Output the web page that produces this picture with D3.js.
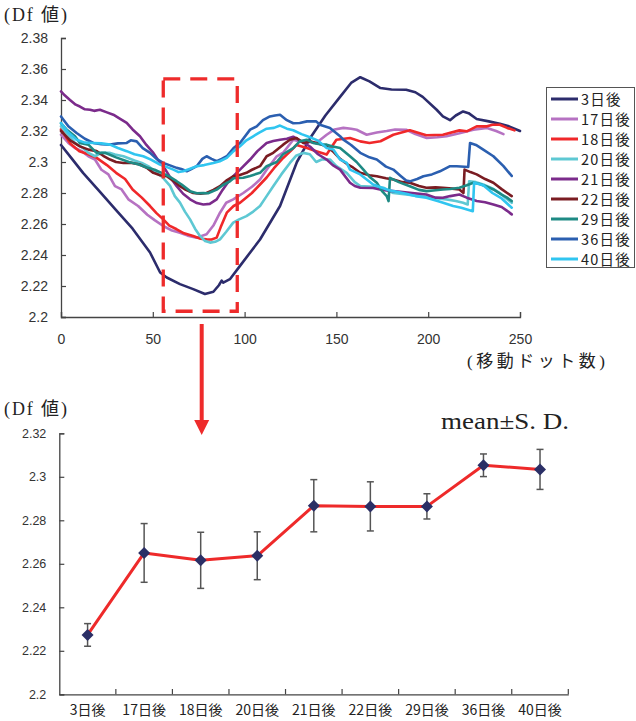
<!DOCTYPE html>
<html><head><meta charset="utf-8">
<script src="https://cdn.jsdelivr.net/npm/d3@7"></script>
<style>
body{margin:0;background:#fff;}
svg{display:block;}
</style></head>
<body>
<svg id="c" width="636" height="721"></svg>
<script>
// ---------- DATA ----------
const seriesNames = ["3日後","17日後","18日後","20日後","21日後","22日後","29日後","36日後","40日後"];
const seriesColors = ["#2c2c6c","#b672c2","#f0282a","#5ec8d3","#7b2b8b","#7a1c22","#1e8a84","#2b5fb0","#30c5f0"];

const d3d = [[0,2.311],[6,2.302],[12,2.293],[21,2.281],[30,2.269],[39,2.257],[48.5,2.2416],[54,2.2287],[57.6,2.2255],[64.8,2.2212],[72,2.218],[78.4,2.2148],[83,2.2163],[86,2.2205],[87.5,2.2235],[88.4,2.2222],[92,2.2244],[97.5,2.233],[108.4,2.250],[119.3,2.2716],[128.5,2.300],[136,2.316],[144,2.330],[152,2.342],[158,2.351],[163,2.3547],[168,2.352],[174,2.3477],[180,2.3468],[188,2.3466],[193,2.345],[197,2.342],[204.6,2.3337],[208,2.3295],[211.9,2.327],[215,2.330],[219,2.3326],[222,2.3315],[226.4,2.3277],[233,2.3262],[239,2.3247],[244,2.323],[250,2.320]];
const d17 = [[0,2.3176],[4,2.3123],[7.6,2.309],[11.3,2.307],[14.9,2.3037],[18.5,2.3016],[22,2.295],[25.8,2.292],[29.4,2.2844],[33,2.2823],[36.7,2.2759],[42,2.2716],[47,2.266],[51,2.2625],[55.7,2.2587],[60,2.256],[64.8,2.2544],[69,2.2525],[73.9,2.2512],[79.3,2.2534],[83,2.259],[86.6,2.2673],[90,2.2737],[93.8,2.2759],[99.3,2.280],[104,2.284],[108.4,2.2887],[112,2.295],[117.5,2.3037],[121,2.306],[126.5,2.3144],[130,2.3133],[135,2.313],[139,2.3123],[144.7,2.3176],[149,2.321],[153.8,2.322],[158,2.3215],[161,2.3208],[166.5,2.3176],[172,2.319],[177.4,2.320],[182,2.321],[188,2.3208],[193,2.318],[199.2,2.3155],[205,2.316],[210,2.3166],[217,2.3185],[224.6,2.3208],[232,2.322],[237,2.320],[241,2.318]];
const d18 = [[0,2.321],[5,2.312],[10,2.307],[14.9,2.305],[19.4,2.3027],[25,2.298],[30,2.293],[34.9,2.289],[39,2.2823],[44,2.277],[48.5,2.2716],[52,2.267],[55.7,2.263],[59,2.259],[63,2.2566],[67,2.254],[72,2.2523],[76,2.2505],[79.3,2.2501],[82,2.250],[84.8,2.2512],[87,2.258],[90.3,2.2673],[94,2.2716],[97.5,2.2737],[104,2.280],[108,2.285],[112,2.290],[116,2.296],[121,2.3026],[125,2.307],[128.3,2.311],[134,2.309],[139,2.307],[144.7,2.3048],[147,2.309],[150,2.3144],[157.4,2.3155],[163,2.3133],[168,2.3123],[174,2.3134],[181,2.3176],[190,2.3205],[199,2.3173],[208,2.3176],[217,2.3204],[221,2.3198],[226.4,2.323],[232,2.323],[235,2.324],[239,2.324],[243,2.322],[247,2.3204]];
const d20 = [[0,2.323],[7.6,2.3123],[12,2.309],[14.9,2.3059],[18.5,2.3037],[22,2.3059],[26.7,2.3059],[29.4,2.3048],[34,2.3037],[40,2.301],[44,2.2994],[48,2.297],[52,2.293],[55,2.2905],[59.4,2.2846],[62,2.278],[64.8,2.2738],[67.5,2.268],[70.3,2.263],[73,2.257],[75.7,2.2523],[78.5,2.249],[81.2,2.248],[84,2.2485],[86.6,2.2501],[90,2.255],[93.8,2.2609],[97,2.263],[101,2.2651],[104.7,2.268],[108.4,2.2716],[112,2.278],[115.6,2.2844],[120,2.292],[124.7,2.2994],[128,2.304],[132,2.3059],[135.5,2.305],[139,2.300],[142,2.3016],[146.5,2.3016],[150,2.2973],[155.6,2.293],[160,2.287],[163,2.2845],[170,2.284],[175.6,2.2834],[181,2.280],[188,2.279],[195.5,2.278],[203,2.2768],[210,2.2759],[215,2.2748],[219,2.2737],[221.5,2.2726],[222.3,2.2876],[226,2.287],[230,2.2855],[235,2.283],[239,2.280],[242,2.277],[245.5,2.2737]];
const d21 = [[0,2.3455],[2,2.343],[4.9,2.340],[8,2.337],[10.3,2.3358],[13,2.334],[15.8,2.3337],[18,2.333],[21.2,2.3337],[25,2.332],[28.5,2.3305],[32,2.328],[35.8,2.3252],[39,2.321],[43,2.3166],[46.5,2.311],[50.3,2.3059],[53,2.301],[55.7,2.2973],[59,2.291],[63,2.2844],[66.5,2.2795],[70.3,2.2759],[74,2.2735],[77.5,2.2726],[81,2.273],[84.8,2.2759],[88,2.282],[92,2.2887],[97.5,2.2951],[103,2.3016],[107,2.307],[112,2.3123],[115.6,2.3135],[119.3,2.3144],[123,2.315],[126.5,2.3163],[130,2.314],[135.6,2.310],[140,2.305],[144.7,2.3016],[148,2.298],[152,2.2951],[157.4,2.2866],[160,2.2845],[163,2.2834],[170,2.2832],[175,2.282],[181,2.2812],[190,2.2802],[199,2.279],[204,2.277],[208,2.2769],[212,2.278],[217,2.279],[221,2.277],[226.4,2.2748],[231,2.274],[235.5,2.2726],[240,2.271],[243,2.2685],[245.5,2.2662]];
const d22 = [[0,2.320],[5,2.314],[10.3,2.3101],[15,2.308],[19.4,2.307],[23,2.304],[26.7,2.3016],[30,2.300],[34,2.2994],[38,2.2995],[43,2.2984],[47,2.296],[50.3,2.293],[54,2.2915],[57.6,2.2908],[61,2.288],[64.8,2.2844],[68,2.282],[72,2.280],[76,2.2795],[79.3,2.280],[83,2.282],[86.6,2.2844],[90,2.288],[93.8,2.2908],[97,2.2915],[101,2.293],[104,2.295],[108.4,2.2973],[112,2.3037],[115.6,2.3059],[121,2.3112],[124.7,2.3144],[128.3,2.3155],[132,2.3123],[135.6,2.3133],[140,2.312],[144.7,2.310],[148,2.307],[152,2.302],[156,2.2985],[159,2.2965],[163,2.293],[168,2.2915],[172,2.2908],[177,2.2895],[181,2.2887],[186,2.287],[190,2.2866],[195,2.2845],[199,2.2834],[204,2.2836],[208,2.2834],[213,2.2828],[217,2.2823],[219.2,2.280],[219.8,2.2951],[223,2.2935],[226.4,2.292],[231,2.289],[235.5,2.2866],[240,2.2825],[243,2.280],[245.5,2.278]];
const d29 = [[0,2.325],[3,2.321],[7.6,2.3166],[10.3,2.3123],[14.9,2.3112],[19.4,2.3059],[24,2.306],[30,2.303],[37,2.300],[42,2.2985],[46.7,2.2965],[51,2.295],[55.7,2.2925],[58.4,2.291],[63,2.2876],[65.7,2.2855],[70.3,2.2812],[74,2.2798],[77.5,2.280],[80.1,2.2798],[84.8,2.2822],[88,2.285],[92,2.2875],[94,2.2895],[99.3,2.2898],[103,2.291],[108.4,2.293],[112,2.2973],[117.5,2.300],[121,2.305],[126.5,2.309],[130,2.3133],[133.8,2.3144],[137.3,2.3123],[141,2.3115],[144.7,2.3112],[148,2.310],[152,2.309],[157.4,2.3037],[161,2.300],[164.7,2.2951],[168,2.2905],[172,2.2866],[175,2.281],[177.4,2.278],[178.4,2.2748],[179.2,2.2898],[184,2.287],[190,2.2844],[195,2.282],[199,2.2812],[204,2.2818],[208,2.2823],[212,2.2826],[217,2.2834],[221,2.285],[224.6,2.2866],[228,2.2858],[232,2.284],[235.5,2.2823],[240,2.279],[243,2.277],[245.5,2.2748]];
const d36 = [[0,2.3294],[4,2.323],[8.5,2.3187],[13,2.315],[17.6,2.3123],[22,2.3115],[26.7,2.3112],[31,2.312],[35.8,2.3123],[38,2.314],[41.2,2.3133],[44.5,2.309],[48.5,2.3059],[52,2.302],[55.7,2.2994],[59,2.298],[63,2.2962],[65.5,2.2955],[68.5,2.294],[71,2.2955],[73.9,2.2973],[77,2.302],[79.3,2.3037],[82,2.302],[84.8,2.3005],[87.5,2.302],[90.3,2.3037],[94,2.309],[97.5,2.3123],[103,2.3209],[106.6,2.323],[110,2.327],[113.8,2.3294],[116.5,2.330],[119.3,2.3305],[123,2.327],[126.5,2.325],[130,2.3252],[134,2.3262],[139,2.3262],[141,2.324],[146.5,2.322],[152,2.3166],[153.8,2.3144],[158,2.311],[163,2.3059],[168,2.303],[172,2.3016],[177,2.297],[181,2.2951],[185,2.291],[188,2.288],[190,2.2875],[194,2.289],[197.4,2.2908],[202,2.292],[206.4,2.294],[211.9,2.2973],[215.5,2.2973],[221.8,2.2968],[222.8,2.3123],[226,2.311],[230,2.308],[235.5,2.3037],[241,2.2973],[245.5,2.291]];
const d40 = [[0,2.3252],[4,2.319],[8.5,2.3144],[13,2.3125],[17.6,2.3123],[22,2.312],[26.7,2.3112],[31,2.309],[35.8,2.307],[40,2.305],[44.8,2.3037],[49,2.3015],[53.9,2.2984],[57,2.297],[61.2,2.2951],[64,2.2935],[66.6,2.294],[70,2.2955],[73.9,2.2973],[78,2.298],[83,2.2994],[86.5,2.3005],[90.3,2.3027],[94,2.307],[97.5,2.3102],[101,2.314],[104.7,2.3166],[108,2.319],[112,2.3215],[116,2.322],[119.3,2.3235],[123,2.3215],[126.5,2.3205],[131,2.318],[135.6,2.316],[140,2.3138],[144.7,2.309],[148.3,2.308],[152,2.3016],[155.6,2.2994],[157.4,2.2951],[163,2.292],[170,2.2855],[177.4,2.2823],[181,2.2812],[188,2.2795],[193,2.278],[199,2.277],[206,2.2745],[213.6,2.2716],[218,2.2705],[224.3,2.2683],[225,2.2866],[230,2.285],[235,2.280],[240,2.2765],[245.5,2.2705]];
const seriesData = [d3d,d17,d18,d20,d21,d22,d29,d36,d40];

const topXTicks = [0,50,100,150,200,250];
const topYTicks = [2.2,2.22,2.24,2.26,2.28,2.3,2.32,2.34,2.36,2.38];
const highlight = {x0:55.7, x1:96, y0:2.2037, y1:2.3536};

const categories = ["3日後","17日後","18日後","20日後","21日後","22日後","29日後","36日後","40日後"];
const means = [2.2273,2.2650,2.2616,2.2637,2.2867,2.2864,2.2864,2.3053,2.3034];
const sds   = [0.0052,0.0135,0.0129,0.0110,0.0120,0.0113,0.0058,0.0052,0.0092];
const botYTicks = [2.2,2.22,2.24,2.26,2.28,2.3,2.32];

// ---------- DRAW ----------
const svg = d3.select("#c");
const fmt = d => String(+d.toFixed(2));
const numFont = "'Liberation Sans', Arial, sans-serif";
const jpFont = "'Noto Sans CJK JP', sans-serif";
const serifFont = "'Liberation Serif', 'DejaVu Serif', 'Noto Sans CJK JP', serif";

// top chart
const xT = d3.scaleLinear([0,250],[61,520]);
const yT = d3.scaleLinear([2.2,2.38],[317,38]);

const gTY = svg.append("g").attr("transform","translate(61,0)")
  .call(d3.axisLeft(yT).tickValues(topYTicks).tickFormat(fmt).tickSize(-5).tickPadding(13));
const gTX = svg.append("g").attr("transform","translate(0,317)")
  .call(d3.axisBottom(xT).tickValues(topXTicks).tickSize(-5).tickPadding(17));
[gTY,gTX].forEach(g=>{
  g.select(".domain").attr("stroke","#444").attr("stroke-width",1.3);
  g.selectAll(".tick line").attr("stroke","#444").attr("stroke-width",1.2);
  g.selectAll("text").attr("font-family",numFont).attr("font-size",14).attr("fill","#333");
});

const line = d3.line().x(d=>xT(d[0])).y(d=>yT(d[1]));
seriesData.forEach((s,i)=>{
  svg.append("path").attr("d",line(s)).attr("fill","none")
    .attr("stroke",seriesColors[i]).attr("stroke-width",2.6)
    .attr("stroke-linejoin","round").attr("stroke-linecap","round");
});

// dashed highlight box
svg.append("rect")
  .attr("x",xT(highlight.x0)).attr("y",yT(highlight.y1))
  .attr("width",xT(highlight.x1)-xT(highlight.x0))
  .attr("height",yT(highlight.y0)-yT(highlight.y1))
  .attr("fill","none").attr("stroke","#ee2b2b").attr("stroke-width",3.3)
  .attr("stroke-dasharray","17,10");

// arrow
const ax = 201.7;
svg.append("line").attr("x1",ax).attr("x2",ax).attr("y1",324).attr("y2",422)
  .attr("stroke","#ee2b2b").attr("stroke-width",4);
svg.append("path").attr("d",`M${ax-7.5},420 L${ax+7.5},420 L${ax},435 Z`).attr("fill","#ee2b2b");

// legend
const lg = svg.append("g");
lg.append("rect").attr("x",546.5).attr("y",87.5).attr("width",88).attr("height",180)
  .attr("fill","#fff").attr("stroke","#555").attr("stroke-width",1);
seriesNames.forEach((n,i)=>{
  const y = 99 + i*20;
  lg.append("line").attr("x1",551).attr("x2",578).attr("y1",y).attr("y2",y)
    .attr("stroke",seriesColors[i]).attr("stroke-width",3);
  lg.append("text").attr("x",581).attr("y",y+5.5).text(n)
    .attr("font-family",jpFont).attr("font-size",14.5).attr("letter-spacing",1.2).attr("fill","#222");
});

// titles
svg.append("text").attr("x",4).attr("y",21).text("(Df 値)")
  .attr("font-family",serifFont).attr("font-size",18).attr("fill","#222")
  .attr("textLength",63).attr("lengthAdjust","spacing");
svg.append("text").attr("x",467).attr("y",367).text("(移動ドット数)")
  .attr("font-family",serifFont).attr("font-size",17).attr("fill","#222")
  .attr("textLength",138).attr("lengthAdjust","spacing");

// bottom chart
const xB = d3.scaleBand(categories,[59.3,568.3]);
const yB = d3.scaleLinear([2.2,2.32],[694.3,433.3]);

const gBY = svg.append("g").attr("transform","translate(59.3,0)")
  .call(d3.axisLeft(yB).tickValues(botYTicks).tickFormat(fmt).tickSize(-5).tickPadding(13));
const gBX = svg.append("g").attr("transform","translate(0,694.3)")
  .call(d3.axisBottom(xB).tickSize(0).tickPadding(11));
[gBY,gBX].forEach(g=>{
  g.select(".domain").attr("stroke","#444").attr("stroke-width",1.3);
  g.selectAll(".tick line").attr("stroke","#444").attr("stroke-width",1.2);
});
gBY.selectAll("text").attr("font-family",numFont).attr("font-size",12.5).attr("fill","#333");
gBX.selectAll("text").attr("font-family",jpFont).attr("font-size",14).attr("fill","#222");
// boundary ticks
const bounds = categories.map(c=>xB(c)).concat([xB.range()[1]]).slice(1);
svg.append("g").selectAll("line").data(bounds).join("line")
  .attr("x1",d=>d).attr("x2",d=>d).attr("y1",694.3).attr("y2",689)
  .attr("stroke","#444").attr("stroke-width",1.2);

const cx = c => xB(c)+xB.bandwidth()/2;
// error bars
const eb = svg.append("g").attr("stroke","#555").attr("stroke-width",1.5);
categories.forEach((c,i)=>{
  const x = cx(c), t = yB(means[i]+sds[i]), b = yB(means[i]-sds[i]);
  eb.append("line").attr("x1",x).attr("x2",x).attr("y1",t).attr("y2",b);
  eb.append("line").attr("x1",x-3.5).attr("x2",x+3.5).attr("y1",t).attr("y2",t);
  eb.append("line").attr("x1",x-3.5).attr("x2",x+3.5).attr("y1",b).attr("y2",b);
});
// mean line
const mline = d3.line().x((d,i)=>cx(categories[i])).y(d=>yB(d));
svg.append("path").attr("d",mline(means)).attr("fill","none")
  .attr("stroke","#ee2a2a").attr("stroke-width",3).attr("stroke-linejoin","round");
// diamonds
svg.append("g").selectAll("path").data(means).join("path")
  .attr("d",(d,i)=>{const x=cx(categories[i]), y=yB(d), r=6; return `M${x},${y-r}L${x+r},${y}L${x},${y+r}L${x-r},${y}Z`;})
  .attr("fill","#2b2f66");

svg.append("text").attr("x",4).attr("y",415).text("(Df 値)")
  .attr("font-family",serifFont).attr("font-size",18).attr("fill","#222")
  .attr("textLength",63).attr("lengthAdjust","spacing");
svg.append("text").attr("x",441).attr("y",429).text("mean±S. D.")
  .attr("font-family",serifFont).attr("font-size",23).attr("fill","#222")
  .attr("textLength",128).attr("lengthAdjust","spacingAndGlyphs");
</script>
</body></html>
